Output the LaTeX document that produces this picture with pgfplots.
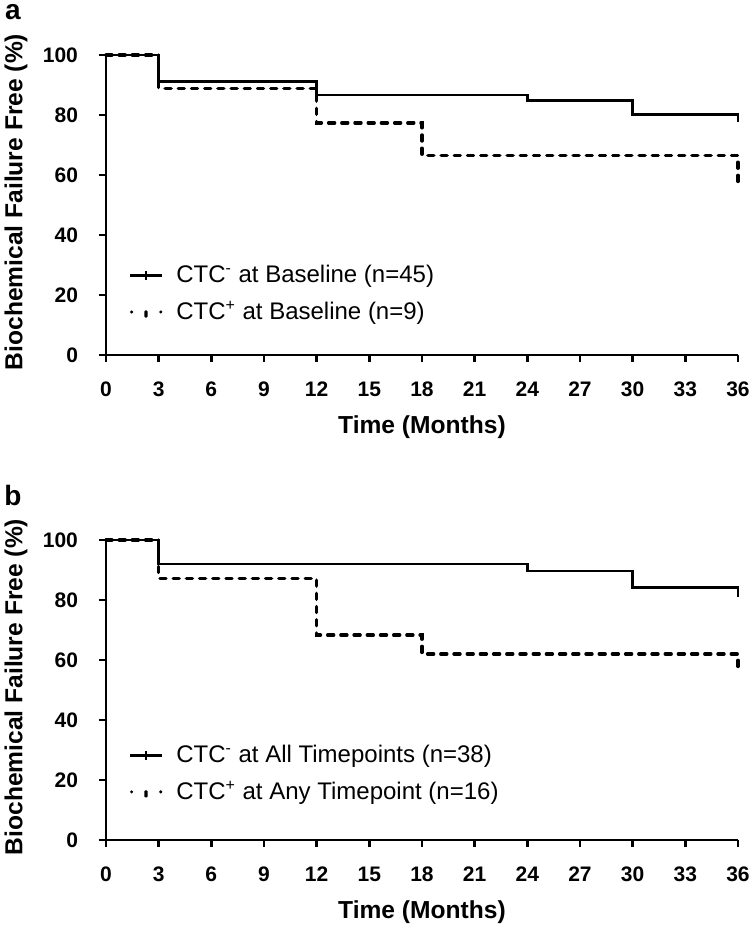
\documentclass[border=0pt]{standalone}
\usepackage{pgfplots}
\pgfplotsset{compat=1.18}
\usepackage{fontspec}
\setmainfont{Liberation Sans}

\pgfplotstableread{
x y
0 100
3 100
3 91.1
12 91.1
12 86.7
24 86.7
24 84.8
30 84.8
30 80.3
36 80.3
36 77.8
}\aneg
\pgfplotstableread{
x y
0 100
3 100
3 88.9
12 88.9
12 77.4
18 77.4
18 66.5
36 66.5
36 56.8
}\apos
\pgfplotstableread{
x y
0 100
3 100
3 92.0
24 92.0
24 89.7
30 89.7
30 84.1
36 84.1
36 81.1
}\bneg
\pgfplotstableread{
x y
0 100
3 100
3 87.2
12 87.2
12 68.3
18 68.3
18 62.0
36 62.0
36 56.5
}\bpos

\pgfplotsset{
  kmaxis/.style={
    scale only axis,
    width=316pt, height=150pt,
    xmin=0, xmax=36, ymin=0, ymax=100,
    axis x line*=bottom, axis y line*=left,
    xtick={0,3,...,36}, ytick={0,20,...,100},
    tick align=outside,
    major tick length=3.5pt,
    every tick/.style={black, line width=1.2pt},
    axis line style={line width=1.4pt, black},
    clip=false,
    /pgf/number format/assume math mode=true,
    ticklabel style={font=\fontsize{10.5}{12}\selectfont\bfseries, text height=7.6pt, text depth=0pt},
    xticklabel style={yshift=-6pt},
    yticklabel style={xshift=-7pt},
    xlabel={Time (Months)},
    ylabel={Biochemical Failure Free (\%)},
    xlabel style={at={(axis description cs:0.5,-0.24)}, anchor=center, font=\fontsize{12.3}{14}\selectfont\bfseries},
    ylabel style={at={(axis description cs:-0.1424,0.51)}, anchor=center, font=\fontsize{12.3}{14}\selectfont\bfseries},
    legend cell align=left,
    legend style={draw=none, fill=none, inner sep=0pt, row sep=8pt, column sep=6.5pt,
      nodes={inner sep=0pt}, font=\fontsize{12}{14}\selectfont, anchor=north west},
  },
  negline/.style={black, line width=1.4pt, line join=miter,
    legend image code/.code={
      \draw[solid, line width=1.3pt] (0pt,0pt) -- (16pt,0pt);
      \draw[solid, line width=1pt] (8pt,-2.2pt) -- (8pt,2.2pt);}},
  posline/.style={black, line width=1.7pt, line cap=round, dash pattern=on 3pt off 3.6pt,
    legend image code/.code={
      \fill[draw=none] (0.8pt,0pt) circle (0.85pt);
      \fill[draw=none] (15.4pt,0pt) circle (0.85pt);
      \fill[draw=none, rounded corners=0.5pt] (7.2pt,-2.8pt) rectangle (8.8pt,0.8pt);}},
}

\begin{document}
\begin{tikzpicture}
\path[use as bounding box] (0pt,0pt) rectangle (376pt,-464pt);

\begin{axis}[kmaxis, at={(53pt,-177.5pt)}, anchor=origin,
  legend style={at={(axis cs:1.27,30.1)}}]
\addplot[negline] table {\aneg};
\addplot[posline] table {\apos};
\legend{CTC\textsuperscript{-} at Baseline (n=45), CTC\textsuperscript{+} at Baseline (n=9)}
\end{axis}

\begin{axis}[kmaxis, at={(53pt,-420pt)}, anchor=origin,
  legend style={at={(axis cs:1.27,31.8)}}]
\addplot[negline] table {\bneg};
\addplot[posline] table {\bpos};
\legend{CTC\textsuperscript{-} at All Timepoints (n=38), CTC\textsuperscript{+} at Any Timepoint (n=16)}
\end{axis}

\node[font=\fontsize{14}{14}\selectfont\bfseries, anchor=base, inner sep=0pt, text height=8pt] at (6.5pt,-9.5pt) {a};
\node[font=\fontsize{14}{14}\selectfont\bfseries, anchor=base, inner sep=0pt, text height=10.5pt] at (6.5pt,-252.5pt) {b};
\end{tikzpicture}
\end{document}
